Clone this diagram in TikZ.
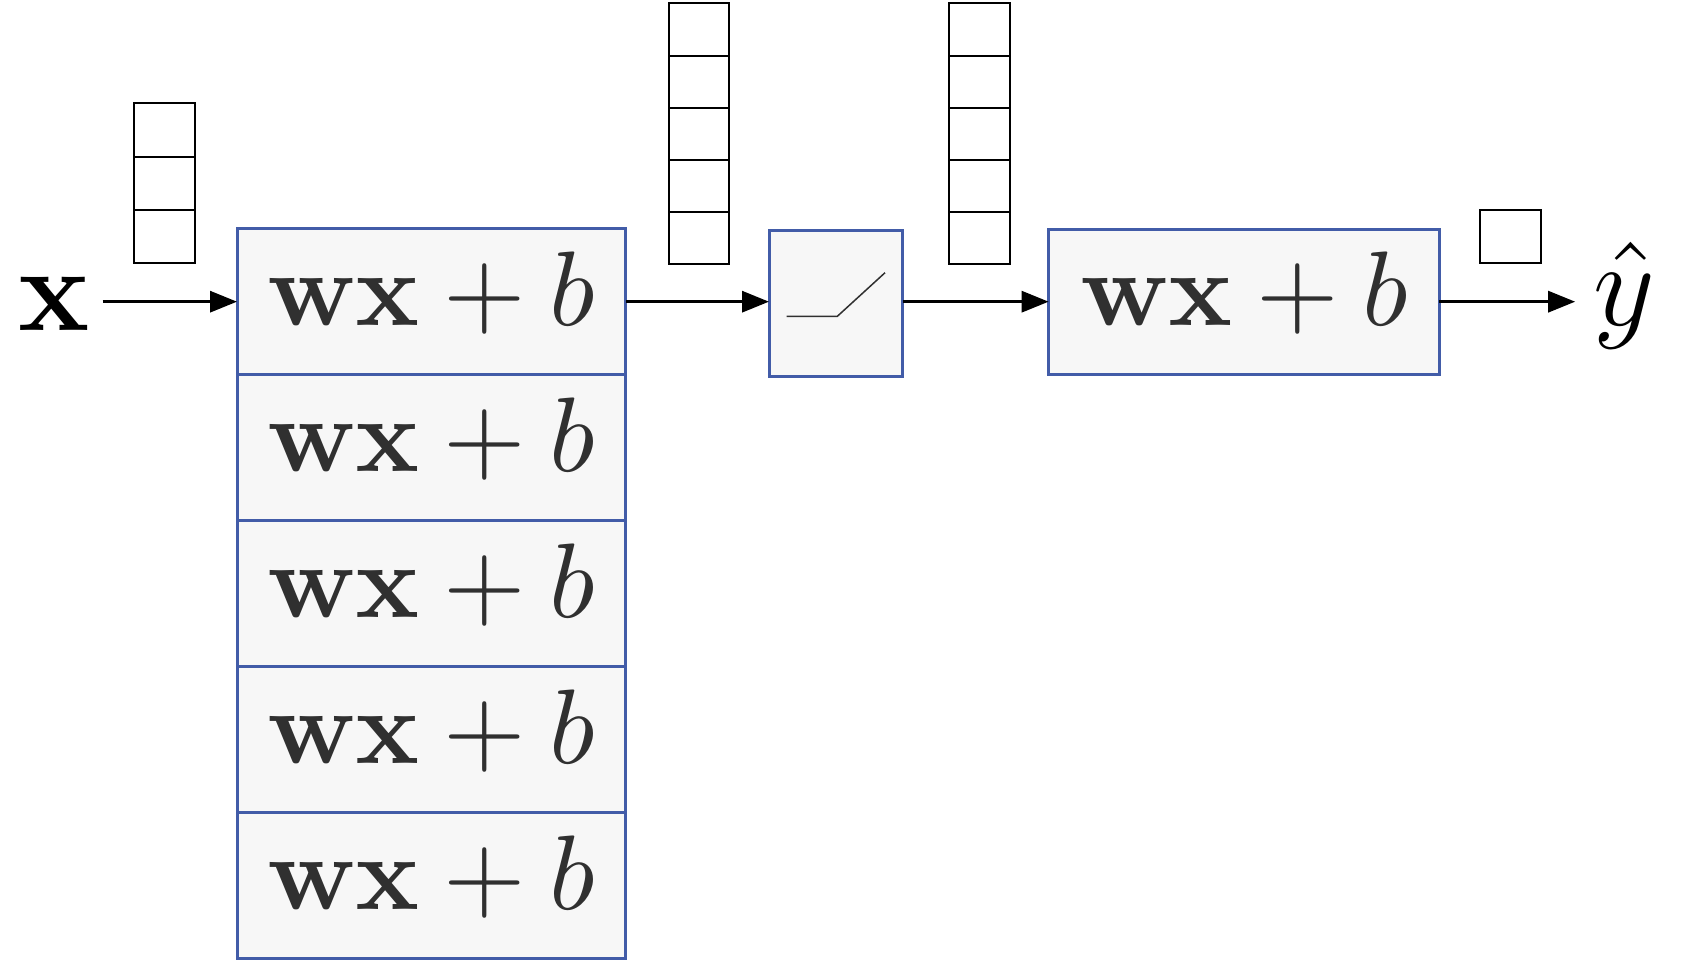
\documentclass[tikz,border=0pt]{standalone}
\usepackage{graphicx}
\usetikzlibrary{arrows.meta}
\definecolor{bblue}{RGB}{66,92,168}
\definecolor{bfill}{RGB}{247,247,247}
\definecolor{tgray}{RGB}{48,48,48}
\newcommand{\wxb}{\scalebox{1.06}{$\mathbf{wx}+b$}}
\begin{document}
\begin{tikzpicture}[x=0.1pt,y=-0.1pt,
  blk/.style={draw=bblue,fill=bfill,line width=0.3pt,inner sep=0pt,outer sep=0pt,
    text height=7pt,text depth=2.2pt,text=tgray,font=\fontsize{10}{12}\selectfont},
  cell/.style={draw=black,line width=0.2pt,inner sep=0pt,outer sep=0pt},
  arr/.style={line width=0.32pt,-{Triangle[length=2.7pt,width=2.1pt]}},
  lab/.style={font=\fontsize{12}{14}\selectfont,inner sep=1.1pt}]
\useasboundingbox (0,0) rectangle (1695,962);
% first layer: five neurons
\foreach \i/\cy in {1/301.65,2/447.55,3/593.45,4/739.35,5/885.25}
  \node[blk,minimum width=38.9pt,minimum height=14.59pt] (b1\i) at (431.5,\cy) {\wxb};
% ReLU
\node[blk,minimum width=13.4pt,minimum height=14.6pt] (relu) at (836,303.5) {};
\draw[tgray,line width=0.15pt] (786.7,316.3) -- (837.3,316.3) -- (885,272.7);
% output neuron
\node[blk,minimum width=39.07pt,minimum height=14.47pt] (b3) at (1244,301.65) {\wxb};
% vectors
\foreach \j in {0,1,2}
  \node[cell,minimum width=6.06pt,minimum height=5.33pt] (va\j) at (164.3,{129.95+53.3*\j}) {};
\foreach \j in {0,1,2,3,4}
  \node[cell,minimum width=5.96pt,minimum height=5.22pt] (vb\j) at (699.2,{29.4+52.2*\j}) {};
\foreach \j in {0,1,2,3,4}
  \node[cell,minimum width=6.09pt,minimum height=5.22pt] (vc\j) at (979.5,{29.4+52.2*\j}) {};
\node[cell,minimum width=6.07pt,minimum height=5.33pt] (vd0) at (1510.3,236.65) {};
% labels
\node[lab,anchor=base] (xin) at (54,330) {$\mathbf{x}$};
\node[lab,anchor=base,inner xsep=1.6pt] (yhat) at (1624,325) {$\hat{y}$};
% arrows
\draw[arr] (xin.east |- b11.west) -- (b11.west);
\draw[arr] (b11.east) -- (b11.east -| relu.west);
\draw[arr] (relu.east |- b3.west) -- (b3.west);
\draw[arr] (b3.east) -- (b3.east -| yhat.west);
\end{tikzpicture}
\end{document}
